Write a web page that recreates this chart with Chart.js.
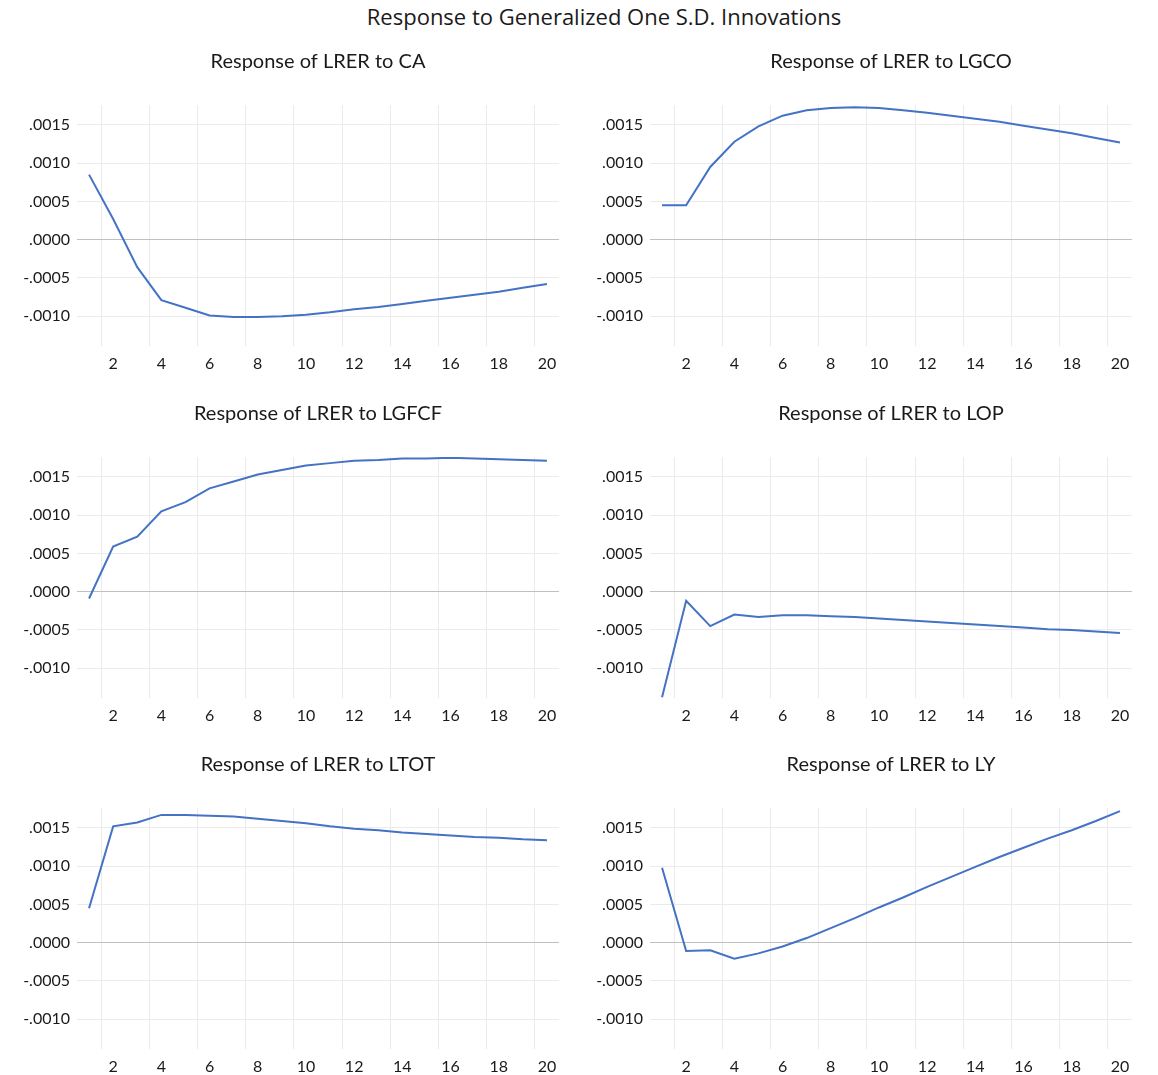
<!DOCTYPE html>
<html>
<head>
<meta charset="utf-8">
<title>Response to Generalized One S.D. Innovations</title>
<script src="https://cdn.jsdelivr.net/npm/chart.js@4.4.0/dist/chart.umd.min.js"></script>
<style>
  html, body { margin: 0; padding: 0; background: #fff; overflow: hidden; }
  body { width: 1158px; height: 1075px; position: relative; }
  #mainTitle {
    position: absolute; left: 304px; top: 1px; width: 600px;
    text-align: center; font-family: 'Open Sans', sans-serif;
    font-size: 22px; line-height: 30px; color: #1a1a1a;
  }
  .panel { position: absolute; }
</style>
</head>
<body>
<div id="mainTitle">Response to Generalized One S.D. Innovations</div>
<div class="panel" id="panel0"><canvas id="chart0" width="579" height="336"></canvas></div>
<div class="panel" id="panel1"><canvas id="chart1" width="579" height="336"></canvas></div>
<div class="panel" id="panel2"><canvas id="chart2" width="579" height="336"></canvas></div>
<div class="panel" id="panel3"><canvas id="chart3" width="579" height="336"></canvas></div>
<div class="panel" id="panel4"><canvas id="chart4" width="579" height="336"></canvas></div>
<div class="panel" id="panel5"><canvas id="chart5" width="579" height="336"></canvas></div>
<script>
// periods after the shock
const periods = ['1','2','3','4','5','6','7','8','9','10','11','12','13','14','15','16','17','18','19','20'];

// responses of LRER
const respCA = [0.00085, 0.00027, -0.00036, -0.00079, -0.00089, -0.00099, -0.00101, -0.00101, -0.00100, -0.00098,
                -0.00095, -0.00091, -0.00088, -0.00084, -0.00080, -0.00076, -0.00072, -0.00068, -0.00063, -0.00058];
const respLGCO = [0.00045, 0.00045, 0.00095, 0.00128, 0.00148, 0.00162, 0.00169, 0.00172, 0.00173, 0.00172,
                  0.00169, 0.00166, 0.00162, 0.00158, 0.00154, 0.00149, 0.00144, 0.00139, 0.00133, 0.00127];
const respLGFCF = [-0.00009, 0.00059, 0.00072, 0.00105, 0.00117, 0.00135, 0.00144, 0.00153, 0.00159, 0.00165,
                   0.00168, 0.00171, 0.00172, 0.00174, 0.00174, 0.00175, 0.00174, 0.00173, 0.00172, 0.00171];
const respLOP = [-0.00138, -0.00012, -0.00045, -0.00030, -0.00033, -0.00031, -0.00031, -0.00032, -0.00033, -0.00035,
                 -0.00037, -0.00039, -0.00041, -0.00043, -0.00045, -0.00047, -0.00049, -0.00050, -0.00052, -0.00054];
const respLTOT = [0.00045, 0.00152, 0.00157, 0.00167, 0.00167, 0.00166, 0.00165, 0.00162, 0.00159, 0.00156,
                  0.00152, 0.00149, 0.00147, 0.00144, 0.00142, 0.00140, 0.00138, 0.00137, 0.00135, 0.00134];
const respLY = [0.00098, -0.00011, -0.00010, -0.00021, -0.00014, -0.00005, 0.00006, 0.00019, 0.00032, 0.00046,
                0.00059, 0.00073, 0.00086, 0.00099, 0.00112, 0.00124, 0.00136, 0.00147, 0.00159, 0.00172];

const panelTitles = ['Response of LRER to CA', 'Response of LRER to LGCO', 'Response of LRER to LGFCF',
                     'Response of LRER to LOP', 'Response of LRER to LTOT', 'Response of LRER to LY'];
const yTickValues = [-0.0010, -0.0005, 0.0000, 0.0005, 0.0010, 0.0015];
const yMin = -0.00139;
const yMax = 0.00176;

const allResp = [respCA, respLGCO, respLGFCF, respLOP, respLTOT, respLY];

function fmtTick(v) {
    return (Math.round(v * 10000) / 10000).toFixed(4).replace('0.', '.');
}

function makePanel(i) {
    const col = i % 2;
    const row = Math.floor(i / 2);
    const panel = document.getElementById('panel' + i);
    panel.style.left = (col === 0 ? 0 : 579) + 'px';
    panel.style.top = [40, 392, 743][row] + 'px';

    const ctx = document.getElementById('chart' + i).getContext('2d');
    return new Chart(ctx, {
        type: 'line',
        data: {
            labels: periods,
            datasets: [{
                data: allResp[i],
                borderColor: '#4472c4',
                borderWidth: 2,
                pointRadius: 0,
                tension: 0,
                fill: false
            }]
        },
        options: {
            responsive: false,
            animation: false,
            layout: { padding: { top: 0, bottom: 0, left: 0, right: col === 0 ? 20 : 26 } },
            plugins: {
                legend: { display: false },
                tooltip: { enabled: false },
                title: {
                    display: true,
                    text: panelTitles[i],
                    fullSize: false,
                    color: '#1a1a1a',
                    font: { family: 'Lato', size: 20, weight: 'normal' },
                    padding: { top: 10, bottom: 31 }
                }
            },
            scales: {
                x: {
                    type: 'category',
                    offset: true,
                    border: { display: false },
                    grid: {
                        offset: true,
                        drawTicks: false,
                        lineWidth: 1,
                        color: c => (c.index % 2 === 1 ? '#ebebeb' : 'rgba(0,0,0,0)')
                    },
                    ticks: {
                        autoSkip: false,
                        maxRotation: 0,
                        padding: 8,
                        color: '#1a1a1a',
                        font: { family: 'Lato', size: 16 },
                        callback: function(val, idx) {
                            return idx % 2 === 1 ? this.getLabelForValue(val) : '';
                        }
                    },
                    afterFit: s => { s.height = 30; }
                },
                y: {
                    type: 'linear',
                    min: yMin,
                    max: yMax,
                    border: { display: false },
                    grid: {
                        drawTicks: false,
                        lineWidth: 1,
                        color: c => (c.tick && Math.abs(c.tick.value) < 1e-9 ? '#c0c0c0' : '#ebebeb')
                    },
                    ticks: {
                        padding: 7,
                        color: '#1a1a1a',
                        font: { family: 'Lato', size: 16 },
                        callback: v => fmtTick(v)
                    },
                    afterBuildTicks: s => { s.ticks = yTickValues.map(v => ({ value: v })); },
                    afterFit: s => { s.width = col === 0 ? 77 : 71; }
                }
            }
        }
    });
}

document.addEventListener('DOMContentLoaded', function() {
    for (let i = 0; i < 6; i++) makePanel(i);
});
</script>
</body>
</html>
